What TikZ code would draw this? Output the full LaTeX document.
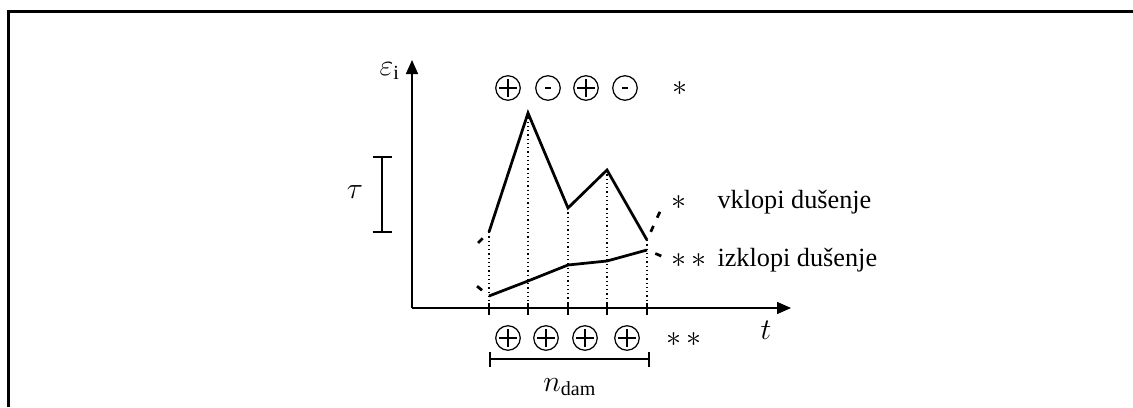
\documentclass[tikz,border=0pt]{standalone}
\usepackage{fontspec}
\setmainfont{Liberation Serif}
\usetikzlibrary{arrows.meta}

\begin{document}
\begin{tikzpicture}[x=0.4pt,y=-0.4pt,
axis/.style={%
line width=0.6pt,
-{Triangle[length=5.6pt,width=4.8pt]}
},
curve/.style={%
line width=1.1pt,
line join=miter
},
ext/.style={%
line width=1.1pt,
dash pattern=on 2.6pt off 3.6pt,
dash phase=2.6pt
},
drop/.style={%
line width=0.5pt,
dash pattern=on 0.5pt off 1.2pt
},
sign/.style={%
circle,
draw,
line width=0.5pt,
minimum size=9.8pt,
inner sep=0pt
},
plussign/.style={%
sign,
path picture={\draw[line width=0.5pt]
([yshift=3.6pt]path picture bounding box.center)--([yshift=-3.6pt]path picture bounding box.center)
([xshift=-3.6pt]path picture bounding box.center)--([xshift=3.6pt]path picture bounding box.center);}
},
minussign/.style={%
sign,
path picture={\draw[line width=1pt]
([xshift=-1.3pt]path picture bounding box.center)--
([xshift=1.3pt]path picture bounding box.center);}
},
txt/.style={%
font=\fontsize{10.5}{12}\selectfont,
inner sep=0pt
},
sym/.style={%
font=\fontsize{12}{14}\selectfont,
inner sep=0pt
},
star/.style={%
font=\fontsize{13}{15}\selectfont,
inner sep=0pt
},
]
\useasboundingbox (0,0) rectangle (1133,407);
%% Frame
\draw[line width=1.2pt] (8.5,407)--(8.5,11.5)--(1133,11.5);
%% Axes
\coordinate (o) at (412,308);
\coordinate (ytop) at (412,60);
\coordinate (xend) at (791,308);
\draw[axis] (o)--(ytop);
\draw[axis] (o)--(xend);
\node[sym] (eps) at (390,71) {$\varepsilon_{\mathrm{i}}$};
\node[sym] (tlab) at (766,330) {$t$};
\foreach \i/\x in {1/489,2/528,3/568,4/607,5/647}{%
\coordinate (t\i) at (\x,308);
\draw[line width=0.6pt] (\x,303)--(\x,315);
}
%% Curves
\foreach \i/\x/\u/\l in {1/489/232/296,2/528/113/281,3/568/208/265,4/607/170/261,5/647/240/250}{%
\coordinate (u\i) at (\x,\u);
\coordinate (l\i) at (\x,\l);
\draw[drop] (u\i)--(t\i);
}
\draw[curve] (u1)--(u2)--(u3)--(u4)--(u5);
\draw[curve] (l1)--(l2)--(l3)--(l4)--(l5);
\coordinate (ua) at (472,249);
\coordinate (ub) at (663,205);
\coordinate (la) at (472,282);
\coordinate (lb) at (666,258);
\draw[ext] (u1)--(ua);
\draw[ext] (u5)--(ub);
\draw[ext] (l1)--(la);
\draw[ext] (l5)--(lb);
%% Signs
\node[plussign] (s1) at (508,88) {};
\node[minussign] (s2) at (548,88) {};
\node[plussign] (s3) at (586,88) {};
\node[minussign] (s4) at (625,88) {};
\node[star] (st1) at (680,89) {$\ast$};
\node[plussign] (p1) at (508,338) {};
\node[plussign] (p2) at (546,338) {};
\node[plussign] (p3) at (585,338) {};
\node[plussign] (p4) at (627,338) {};
\node[star] (st2) at (684,340) {$\ast\,\ast$};
%% Legend
\node[star] (st3) at (679,203) {$\ast$};
\node[txt,anchor=west] (on) at (717,202) {vklopi dušenje};
\node[star] (st4) at (689,261) {$\ast\,\ast$};
\node[txt,anchor=west] (off) at (717,260) {izklopi dušenje};
%% Tau
\coordinate (ta) at (382,157);
\coordinate (tb) at (382,232);
\draw[line width=0.6pt] (ta)--(tb)
([xshift=-3.8pt]ta)--([xshift=3.8pt]ta)
([xshift=-3.8pt]tb)--([xshift=3.8pt]tb);
\node[sym] (tau) at (355,192) {$\tau$};
%% n_dam
\coordinate (na) at (490,359);
\coordinate (nb) at (649,359);
\draw[line width=0.6pt] (na)--(nb)
([yshift=3pt]na)--([yshift=-3pt]na)
([yshift=3pt]nb)--([yshift=-3pt]nb);
\node[sym] (ndam) at (570,387) {$n_{\mathrm{dam}}$};
\end{tikzpicture}
\end{document}
